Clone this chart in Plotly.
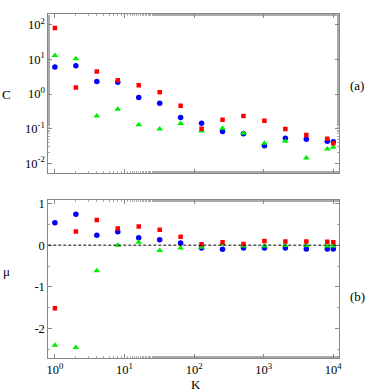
import plotly.graph_objects as go
from plotly.subplots import make_subplots

K = [1, 2, 4, 8, 16, 32, 64, 128, 256, 512, 1024, 2048, 4096, 8192, 10000]

C_red = [81, 1.53, 4.5, 2.5, 1.78, 1.12, 0.46, 0.099, 0.18, 0.23, 0.17, 0.097, 0.066, 0.051, 0.038]
C_blue = [5.97, 6.5, 2.3, 2.17, 0.79, 0.54, 0.21, 0.144, 0.083, 0.071, 0.032, 0.053, 0.049, 0.043, 0.042]
C_green = [12.9, 10.4, 0.23, 0.36, 0.13, 0.097, 0.14, 0.086, 0.103, 0.073, 0.038, 0.043, 0.0142, 0.026, 0.029]

mu_red = [-1.51, 0.33, 0.60, 0.40, 0.45, 0.37, 0.20, 0.02, 0.07, 0.03, 0.10, 0.09, 0.09, 0.08, 0.07]
mu_blue = [0.54, 0.74, 0.24, 0.32, 0.18, 0.13, 0.05, -0.065, -0.097, -0.065, -0.065, -0.07, -0.09, -0.09, -0.09]
mu_green = [-2.40, -2.45, -0.61, 0.0, 0.07, -0.13, -0.07, -0.05, 0.03, -0.02, -0.02, -0.01, -0.01, -0.02, -0.02]

x_tickvals = [1, 10, 100, 1000, 10000]
x_ticktext = ["10<sup>0</sup>", "10<sup>1</sup>", "10<sup>2</sup>", "10<sup>3</sup>", "10<sup>4</sup>"]
c_tickvals = [0.01, 0.1, 1, 10, 100]
c_ticktext = ["10<sup>-2</sup>", "10<sup>-1</sup>", "10<sup>0</sup>", "10<sup>1</sup>", "10<sup>2</sup>"]
mu_tickvals = [-2, -1, 0, 1]
mu_ticktext = ["-2", "-1", "0", "1"]

RED = "#ff0000"
BLUE = "#0000ff"
GREEN = "#00ee00"

fig = make_subplots(rows=2, cols=1)

def add(xs, ys, color, symbol, size, row):
    fig.add_trace(go.Scatter(x=xs, y=ys, mode="markers",
                             marker=dict(color=color, symbol=symbol, size=size, line=dict(width=0)),
                             showlegend=False), row=row, col=1)

add(K, C_blue, BLUE, "circle", 5.5, 1)
add(K, C_green, GREEN, "triangle-up", 6, 1)
add(K, C_red, RED, "square", 4.5, 1)
add(K, mu_blue, BLUE, "circle", 5.5, 2)
add(K, mu_green, GREEN, "triangle-up", 6, 2)
add(K, mu_red, RED, "square", 4.5, 2)

font = dict(family="Liberation Serif", size=13, color="black")
tfont = dict(family="Liberation Serif", size=12.5, color="black")
axcommon = dict(showline=True, linecolor="#888888", linewidth=1, mirror="allticks",
                ticks="inside", ticklen=4, tickcolor="#888888", showgrid=False, zeroline=False,
                tickfont=tfont, automargin=False)

xd = [48.3 / 374, 339.3 / 374]
for ax in ("xaxis", "xaxis2"):
    fig.layout[ax].update(type="log", range=[-0.095, 4.086], domain=xd,
                          tickmode="array", tickvals=x_tickvals, ticktext=x_ticktext,
                          minor=dict(ticks="inside", ticklen=2, tickcolor="#aaaaaa", showgrid=False),
                          **axcommon)
fig.layout.xaxis.update(showticklabels=False)
fig.layout.xaxis2.update(ticklabelstandoff=0)

fig.layout.yaxis.update(type="log", range=[-2.29, 2.31], domain=[1 - 173.3 / 392, 1 - 14 / 392],
                        tickmode="array", tickvals=c_tickvals, ticktext=c_ticktext,
                        minor=dict(ticks="inside", ticklen=2, tickcolor="#aaaaaa", showgrid=False),
                        **axcommon)
fig.layout.yaxis2.update(range=[-2.71, 1.094], domain=[1 - 358.3 / 392, 1 - 199.5 / 392],
                         tickmode="array", tickvals=mu_tickvals, ticktext=mu_ticktext,
                         minor=dict(ticks="inside", ticklen=2, tickcolor="#aaaaaa", dtick=0.5, showgrid=False),
                         **axcommon)

fig.add_shape(type="line", xref="x2 domain", yref="y2", x0=0, x1=1, y0=0, y1=0,
              line=dict(color="black", width=1, dash="3px,2px"))

def ann(text, x, y):
    fig.add_annotation(text=text, x=x / 374, y=1 - y / 392, xref="paper", yref="paper",
                       showarrow=False, font=font, xanchor="center", yanchor="middle")

ann("C", 6, 94)
ann("μ", 6, 271)
ann("(a)", 357, 86)
ann("(b)", 357, 296)
ann("K", 196, 384)

fig.update_layout(width=374, height=392, margin=dict(l=0, r=0, t=0, b=0, autoexpand=False),
                  plot_bgcolor="white", paper_bgcolor="white", font=font)

fig.write_html("out.html", config={"displayModeBar": False},
               post_script="document.body.style.margin='0';document.body.style.overflow='hidden';")
